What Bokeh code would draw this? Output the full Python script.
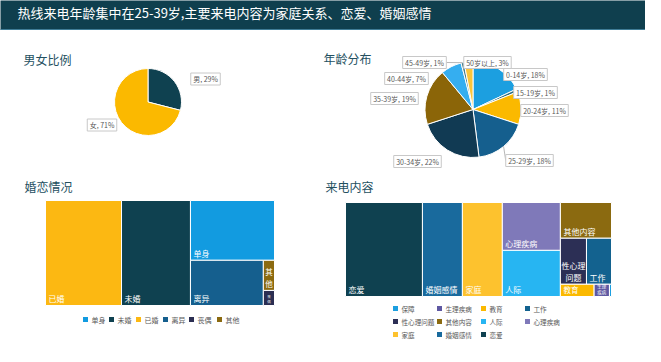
import math
from bokeh.plotting import figure
from bokeh.layouts import column, row
from bokeh.models import Range1d
from bokeh.core.properties import value
from bokeh.embed import file_html
from bokeh.resources import INLINE

# ---------------- data ----------------
TITLE = "热线来电年龄集中在25-39岁,主要来电内容为家庭关系、恋爱、婚姻感情"
HEADINGS = ["男女比例", "年龄分布", "婚恋情况", "来电内容"]

gender_labels = ["男", "女"]
gender_values = [29, 71]

age_labels = ["0-14岁", "15-19岁", "20-24岁", "25-29岁", "30-34岁",
              "35-39岁", "40-44岁", "45-49岁", "50岁以上"]
age_values = [18, 1, 11, 18, 22, 19, 7, 1, 3]

marital_labels = ["已婚", "未婚", "单身", "离异", "其他", "丧偶"]
marital_values = [33.2, 30.1, 20.9, 13.7, 1.4, 0.7]
marital_legend = ["单身", "未婚", "已婚", "离异", "丧偶", "其他"]

content_labels = ["恋爱", "婚姻感情", "家庭", "心理疾病", "人际", "其他内容",
                  "性心理问题", "工作", "教育", "生理疾病", "保障"]
content_values = [28.9, 15.0, 15.0, 11.1, 10.7, 7.3, 4.8, 4.6, 1.65, 0.75, 0.1]
content_legend = ["保障", "生理疾病", "教育", "工作",
                  "性心理问题", "其他内容", "人际", "心理疾病",
                  "家庭", "婚姻感情", "恋爱"]

# ---------------- styles ----------------
FONT = value("Noto Sans CJK SC")
HEADER_BG = "#0f3f4e"
HEAD_COLOR = "#24505f"
LABEL_GRAY = "#595959"

gender_colors = ["#0f4150", "#fbb900"]
age_colors = ["#1c9fe0", "#2d6d80", "#fbb900", "#155f8e", "#113a53",
              "#8b6508", "#35aef0", "#4a8090", "#fcc53a"]
marital_colors = {"单身": "#129be0", "未婚": "#0f4150", "已婚": "#fcb812",
                  "离异": "#155f8e", "丧偶": "#2b2e52", "其他": "#8b6a10"}
content_colors = {"保障": "#1c9fe0", "生理疾病": "#5e58a2", "教育": "#fbb900",
                  "工作": "#13628f", "性心理问题": "#2c2f55", "其他内容": "#8b6a10",
                  "人际": "#27b5f2", "心理疾病": "#7f79b9", "家庭": "#fdc22e",
                  "婚姻感情": "#196a9d", "恋爱": "#0f4150"}

# treemap nesting (layout only): "h" = side by side, "v" = stacked
MARITAL_TREE = ("h", ["已婚", "未婚", ("v", ["单身", ("h", ["离异", ("v", ["其他", "丧偶"])])])])
CONTENT_TREE = ("h", ["恋爱", "婚姻感情", "家庭", ("v", ["心理疾病", "人际"]),
                      ("v", ["其他内容", ("h", ["性心理问题", "工作"]),
                             ("h", ["教育", "生理疾病", "保障"])])])


def make_fig(w, h):
    p = figure(width=w, height=h, x_range=Range1d(0, w), y_range=Range1d(0, h),
               output_backend="svg", toolbar_location=None, min_border=0)
    p.axis.visible = False
    p.grid.visible = False
    p.outline_line_color = None
    p.background_fill_color = "white"
    p.border_fill_color = "white"
    return p


class Panel:
    def __init__(self, x0, y0, x1, y1):
        self.ox, self.oy = x0, y0
        self.w, self.h = x1 - x0, y1 - y0
        self.p = make_fig(self.w, self.h)

    def X(self, x):
        return x - self.ox

    def Y(self, y):
        return self.h - (y - self.oy)


def est_width(s, fs):
    w = 0.0
    for ch in s:
        if ord(ch) > 0x2E80:
            w += 1.0
        elif ch in "0123456789":
            w += 0.56
        elif ch == "%":
            w += 0.86
        elif ch in ",. ":
            w += 0.26
        elif ch == "-":
            w += 0.34
        else:
            w += 0.6
    return w * fs


def heading(panel, text, x, y):
    panel.p.text(x=[panel.X(x)], y=[panel.Y(y)], text=[text], text_font=FONT,
                 text_font_size="12px", text_color=HEAD_COLOR, text_align="left",
                 text_baseline="middle")


def pie(panel, cx, cy, r, values, colors):
    tot = float(sum(values))
    starts, ends, cum = [], [], 0.0
    for v in values:
        starts.append(math.pi / 2 - 2 * math.pi * cum / tot)
        cum += v
        ends.append(math.pi / 2 - 2 * math.pi * cum / tot)
    panel.p.wedge(x=panel.X(cx), y=panel.Y(cy), radius=r, start_angle=starts,
                  end_angle=ends, direction="clock", fill_color=colors,
                  line_color="white", line_width=1)
    return [(s + e) / 2 for s, e in zip(starts, ends)]


def label_boxes(panel, texts, centers, fs=7.0):
    xs, ys, ws = [], [], []
    for t, (x, y) in zip(texts, centers):
        xs.append(panel.X(x))
        ys.append(panel.Y(y))
        ws.append(est_width(t, fs) + 5)
    panel.p.rect(x=xs, y=ys, width=ws, height=12, fill_color="white",
                 line_color="#c8c8c8", line_width=1)
    panel.p.text(x=xs, y=ys, text=texts, text_font=FONT, text_font_size=f"{fs}px",
                 text_color=LABEL_GRAY, text_align="center", text_baseline="middle")
    return ws


def tree_layout(node, vals, x0, y0, x1, y1, out):
    if isinstance(node, str):
        out[node] = (x0, y0, x1, y1)
        return
    kind, kids = node

    def total(n):
        if isinstance(n, str):
            return vals[n]
        return sum(total(k) for k in n[1])

    tot = total(node)
    pos = x0 if kind == "h" else y0
    for k in kids:
        frac = total(k) / tot
        if kind == "h":
            nxt = pos + (x1 - x0) * frac
            tree_layout(k, vals, pos, y0, nxt, y1, out)
        else:
            nxt = pos + (y1 - y0) * frac
            tree_layout(k, vals, x0, pos, x1, nxt, out)
        pos = nxt


def treemap(panel, labels, values, tree, colors, box, disp, sizes):
    vals = dict(zip(labels, values))
    rects = {}
    tree_layout(tree, vals, box[0], box[1], box[2], box[3], rects)
    xs, ys, ws, hs, cs = [], [], [], [], []
    for name in labels:
        x0, y0, x1, y1 = rects[name]
        xs.append(panel.X((x0 + x1) / 2))
        ys.append(panel.Y((y0 + y1) / 2))
        ws.append(x1 - x0)
        hs.append(y1 - y0)
        cs.append(colors[name])
    panel.p.rect(x=xs, y=ys, width=ws, height=hs, fill_color=cs,
                 line_color="white", line_width=1)
    for name in labels:
        x0, y0, x1, y1 = rects[name]
        t = disp.get(name, name)
        if not t:
            continue
        fs = sizes.get(name, 8)
        if "\n" in t:
            panel.p.text(x=[panel.X((x0 + x1) / 2)], y=[panel.Y(y1 - 1.5)], text=[t],
                         text_font=FONT, text_font_size=f"{fs}px", text_color="white",
                         text_align="center", text_baseline="bottom",
                         text_line_height=1.05)
        else:
            panel.p.text(x=[panel.X(x0 + 3)], y=[panel.Y(y1 - 1.5)], text=[t],
                         text_font=FONT, text_font_size=f"{fs}px", text_color="white",
                         text_align="left", text_baseline="bottom")


def legend(panel, names, colors, xs, ys, fs=7.0):
    mx = [panel.X(x) for x in xs]
    my = [panel.Y(y) for y in ys]
    panel.p.scatter(x=mx, y=my, marker="square", size=5,
                    fill_color=[colors[n] for n in names], line_color=None)
    panel.p.text(x=[m + 6 for m in mx], y=my, text=names, text_font=FONT,
                 text_font_size=f"{fs}px", text_color=LABEL_GRAY, text_align="left",
                 text_baseline="middle")


# ---------------- header ----------------
hdr = Panel(8, 8, 653, 38)
hdr.p.background_fill_color = HEADER_BG
hdr.p.border_fill_color = HEADER_BG
hdr.p.quad(left=0, right=hdr.w, bottom=0, top=1.5, fill_color="#3f7c96", line_color=None)
hdr.p.text(x=[hdr.X(25)], y=[hdr.Y(20)], text=[TITLE], text_font=FONT,
           text_font_size="13px", text_color="white", text_align="left",
           text_baseline="middle")

# ---------------- gender pie ----------------
gp = Panel(8, 38, 318, 180)
heading(gp, HEADINGS[0], 31, 67)
pie(gp, 155.5, 109.5, 33.5, gender_values, gender_colors)
g_texts = [f"{l}, {v}%" for l, v in zip(gender_labels, gender_values)]
label_boxes(gp, g_texts, [(213, 86.5), (109.5, 132.5)])

# ---------------- age pie ----------------
ap = Panel(318, 38, 653, 180)
heading(ap, HEADINGS[1], 331, 66)
acx, acy, ar = 480.5, 117, 48
mids = pie(ap, acx, acy, ar, age_values, age_colors)
a_pos = [(533, 82), (543, 100), (552, 118), (537, 168), (425, 169),
         (402, 106), (414, 86), (432, 70), (495, 70)]
a_texts = [f"{l}, {v}%" for l, v in zip(age_labels, age_values)]
lx0, ly0, lx1, ly1 = [], [], [], []
for i, side in ((7, "right"), (3, "left")):
    ex = ap.X(acx) + ar * math.cos(mids[i])
    ey = ap.Y(acy) + ar * math.sin(mids[i])
    w = est_width(a_texts[i], 7.0) + 5
    bx = ap.X(a_pos[i][0]) + (w / 2 if side == "right" else -w / 2)
    by = ap.Y(a_pos[i][1])
    lx0.append(ex); ly0.append(ey); lx1.append(bx); ly1.append(by)
ap.p.segment(x0=lx0, y0=ly0, x1=lx1, y1=ly1, line_color="#a6a6a6", line_width=0.8)
label_boxes(ap, a_texts, a_pos)

# ---------------- marital treemap ----------------
mp = Panel(8, 180, 318, 354)
heading(mp, HEADINGS[2], 32, 194)
treemap(mp, marital_labels, marital_values, MARITAL_TREE, marital_colors,
        (53, 208, 282, 313), {"其他": "其\n他", "丧偶": "丧\n偶"},
        {"其他": 7.5, "丧偶": 3.5})
legend(mp, marital_legend, marital_colors,
       [93, 119, 146, 173, 199, 227], [327] * 6)

# ---------------- content treemap ----------------
cp = Panel(318, 180, 653, 354)
heading(cp, HEADINGS[3], 333, 194)
treemap(cp, content_labels, content_values, CONTENT_TREE, content_colors,
        (353, 210, 619, 304),
        {"性心理问题": "性心理\n问题", "生理疾病": "生理\n疾病", "保障": ""},
        {"生理疾病": 4.5, "教育": 7.5})
cx_cols = [403, 447, 491, 535]
cy_rows = [316, 329, 342]
lx = [cx_cols[i % 4] for i in range(len(content_legend))]
ly = [cy_rows[i // 4] for i in range(len(content_legend))]
legend(cp, content_legend, content_colors, lx, ly, fs=6.6)

layout = column(hdr.p, row(gp.p, ap.p, spacing=0), row(mp.p, cp.p, spacing=0), spacing=0)

open("out.html", "w").write(file_html(layout, INLINE))
